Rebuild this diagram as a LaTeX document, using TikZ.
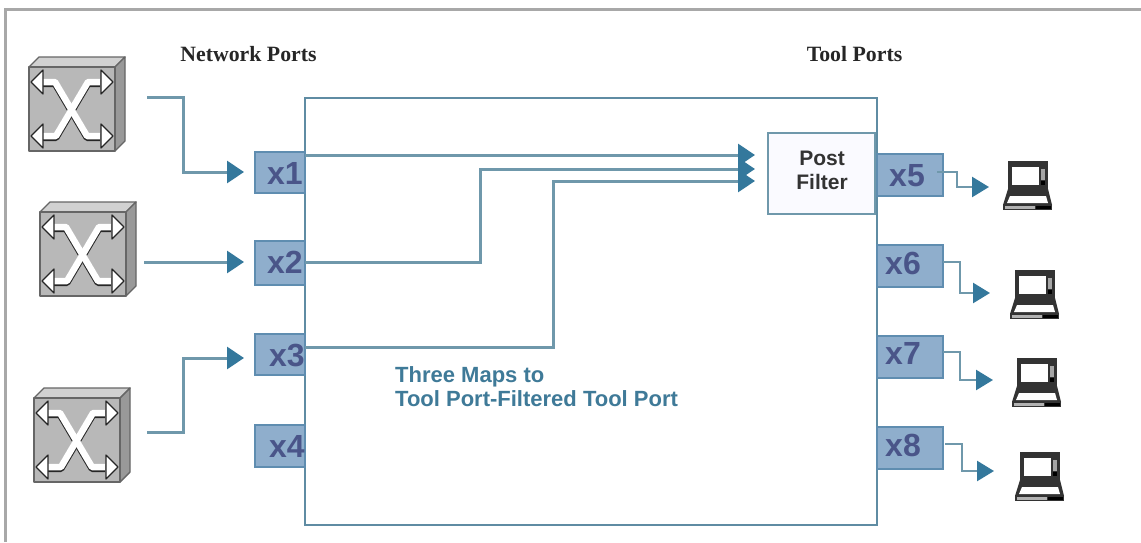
\documentclass[tikz,border=0pt]{standalone}
\usepackage{fontspec}
\setmainfont{Liberation Sans}
\newfontfamily\serifhead{Liberation Serif}
\usetikzlibrary{arrows.meta}
\definecolor{linkc}{HTML}{6F98AB}
\definecolor{tipc}{HTML}{34789C}
\definecolor{boxc}{HTML}{5F8CA3}
\definecolor{portf}{HTML}{8FAECC}
\definecolor{portd}{HTML}{5F8DB0}
\definecolor{portt}{HTML}{4A5589}
\definecolor{mapt}{HTML}{3F7A98}
\definecolor{framec}{HTML}{A8A8A8}
\tikzset{
  link/.style={draw=linkc,line width=3pt,line join=miter},
  flow/.style={link,-{Triangle[length=17pt,width=22pt,color=tipc]}},
  smallflow/.style={link,line width=2.6pt,-{Triangle[length=17pt,width=20pt,color=tipc]}},
  port/.style={draw=portd,fill=portf,line width=2.5pt,inner sep=0pt,outer sep=0pt},
  portlabel/.style={text=portt,font=\fontsize{32}{32}\selectfont\bfseries,inner sep=0pt},
  headlabel/.style={font=\serifhead\fontsize{21.8}{22}\selectfont\bfseries,text=black!85,inner sep=0pt},
  iconanchor/.style={inner sep=0pt,minimum width=#1,minimum height=#1}
}
% switch icon: front face top-left at (#1,#2)
\newcommand{\switchicon}[2]{%
  \begin{scope}[shift={(#1,#2)}]
    \draw[draw=black!60,line width=1.4pt,line join=round,fill=black!18] (0,0) -- (10,-10) -- (96,-10) -- (86,0) -- cycle;
    \draw[draw=black!60,line width=1.4pt,line join=round,fill=black!40] (86,0) -- (96,-10) -- (96,74) -- (86,84) -- cycle;
    \draw[draw=black!60,line width=1.8pt,line join=round,fill=black!28] (0,0) rectangle (86,84);
    \foreach \c/\w/\dy in {black!85/7pt/-1.5,white/6.5pt/0}{
      \draw[draw=\c,line width=\w,line join=round,yshift=\dy pt] (14,15) -- (26,15) -- (58,69) -- (71,69);
      \draw[draw=\c,line width=\w,line join=round,yshift=\dy pt] (71,15) -- (59,15) -- (27,69) -- (14,69);
    }
    \draw[white,line width=5pt] (26,15) -- (58,69) (59,15) -- (27,69);
    \foreach \yy in {15,69}{
      \draw[draw=black!85,fill=white,line width=1.2pt,line join=round] (2,\yy) -- (14,\yy-12) -- (14,\yy+12) -- cycle;
      \draw[draw=black!85,fill=white,line width=1.2pt,line join=round] (84,\yy) -- (72,\yy-12) -- (72,\yy+12) -- cycle;
    }
  \end{scope}}
% laptop icon: top-left at (#1,#2)
\newcommand{\laptopicon}[2]{%
  \begin{scope}[shift={(#1,#2)}]
    \fill[black!80] (5,0) rectangle (45,29);
    \fill[white] (9,6) rectangle (36,24);
    \fill[black!35] (38,8) rectangle (42,19);
    \fill[black] (38,20) rectangle (42,24);
    \fill[black!80] (5,28) -- (45,28) -- (49,44) -- (0,44) -- cycle;
    \fill[white] (7,35) -- (43,35) -- (45,42) -- (4,42) -- cycle;
    \fill[black!80] (0,43) rectangle (49,49);
    \fill[black!30] (2,45) rectangle (32,47.5);
    \fill[black] (33,44.5) rectangle (48,48);
  \end{scope}}
\begin{document}
\begin{tikzpicture}[x=1pt,y=-1pt]
\useasboundingbox (0,0) rectangle (1141,542);
\fill[white] (0,0) rectangle (1141,542);
\draw[framec,line width=3pt] (5,542) -- (5,9) -- (1141,9);

% main box
\node[draw=boxc,line width=2.8pt,fill=white,inner sep=0pt,outer sep=0pt,minimum width=572pt,minimum height=427pt,anchor=north west] (main) at (305,98) {};
\node[draw=linkc,fill=blue!2,line width=2.8pt,inner sep=0pt,outer sep=0pt,minimum width=107pt,minimum height=81pt,anchor=north west] (filter) at (768,133) {};
\node[align=center,text=black!80,inner sep=0pt,font=\fontsize{21}{24}\selectfont\bfseries] (filterlabel) at (822,170) {Post\\Filter};

% ports
\node[port,minimum width=50pt,minimum height=41pt,anchor=north west] (p1) at (255,152) {};
\node[port,minimum width=50pt,minimum height=44pt,anchor=north west] (p2) at (255,241) {};
\node[port,minimum width=50pt,minimum height=41pt,anchor=north west] (p3) at (255,334) {};
\node[port,minimum width=50pt,minimum height=42pt,anchor=north west] (p4) at (255,425) {};
\node[port,minimum width=66pt,minimum height=42pt,anchor=north west] (p5) at (877,154) {};
\node[port,minimum width=66pt,minimum height=42pt,anchor=north west] (p6) at (877,245) {};
\node[port,minimum width=66pt,minimum height=42pt,anchor=north west] (p7) at (877,336) {};
\node[port,minimum width=66pt,minimum height=42pt,anchor=north west] (p8) at (877,427) {};
\node[portlabel] (l1) at (285,173) {x1};
\node[portlabel] (l2) at (285,262) {x2};
\node[portlabel] (l3) at (287,355) {x3};
\node[portlabel] (l4) at (287,446) {x4};
\node[portlabel] (l5) at (907,176) {x5};
\node[portlabel] (l6) at (903,263) {x6};
\node[portlabel] (l7) at (903,353) {x7};
\node[portlabel] (l8) at (903,445) {x8};

% icons
\switchicon{29}{67}
\switchicon{40}{212}
\switchicon{34}{398}
\laptopicon{1003}{161}
\laptopicon{1010}{270}
\laptopicon{1012}{358}
\laptopicon{1015}{452}
\node[iconanchor=1pt] (s1) at (147,97) {};
\node[iconanchor=1pt] (s2) at (144,262) {};
\node[iconanchor=1pt] (s3) at (147,432) {};
\node[iconanchor=1pt] (t5) at (989,187) {};
\node[iconanchor=1pt] (t6) at (990,293) {};
\node[iconanchor=1pt] (t7) at (993,380) {};
\node[iconanchor=1pt] (t8) at (994,471) {};

% inbound connectors
\draw[flow,shorten >=11pt] (s1.center) -- (183,97) -- (183,172) -- (p1.west |- 0,172);
\draw[flow,shorten >=11pt] (s2.center) -- (p2.west |- 0,262);
\draw[flow,shorten >=11pt] (s3.center) -- (183,432) -- (183,358) -- (p3.west |- 0,358);

% internal connectors
\draw[flow,shorten >=13pt] (p1.east |- 0,155) -- (filter.west |- 0,155);
\draw[flow,shorten >=13pt] (p2.east |- 0,262) -- (480,262) -- (480,169) -- (filter.west |- 0,169);
\draw[flow,shorten >=13pt] (p3.east |- 0,347) -- (553,347) -- (553,181) -- (filter.west |- 0,181);

% outbound connectors
\draw[smallflow] (p5.east |- 0,172) ++(-6,0) -- (957,172) -- (957,187) -- (t5.center);
\draw[smallflow] (p6.east |- 0,262) -- (960,262) -- (960,293) -- (t6.center);
\draw[smallflow] (p7.east |- 0,352) -- (960,352) -- (960,380) -- (t7.center);
\draw[smallflow] (p8.east |- 0,444) ++(2,0) -- (962,444) -- (962,471) -- (t8.center);

% texts
\node[headlabel] (netports) at (248.5,54) {Network Ports};
\node[headlabel] (toolports) at (854.5,54) {Tool Ports};
\node[text=mapt,font=\fontsize{22}{24}\selectfont\bfseries,align=left,anchor=west,inner sep=0pt] (maps) at (395,387) {Three Maps to\\Tool Port-Filtered Tool Port};
\end{tikzpicture}
\end{document}
